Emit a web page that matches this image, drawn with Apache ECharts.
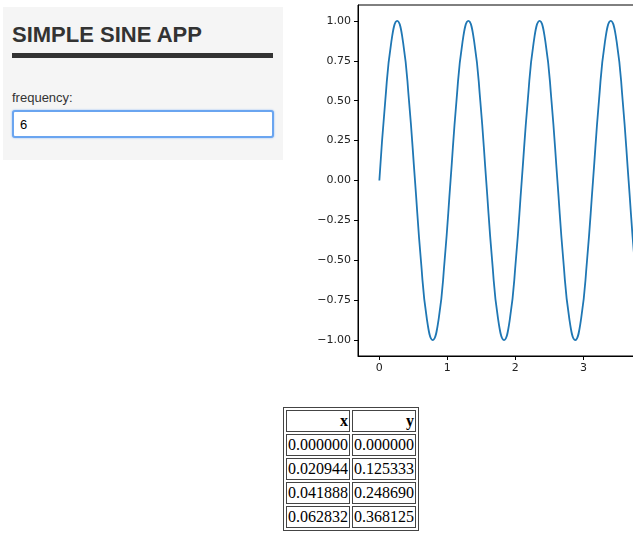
<!DOCTYPE html>
<html>
<head>
<meta charset="utf-8">
<script src="https://cdn.jsdelivr.net/npm/echarts@6/dist/echarts.min.js"></script>
<style>
  body { margin:0; width:633px; height:533px; overflow:hidden; position:relative; background:#fff; }
  #panel { position:absolute; left:3px; top:7px; width:280px; height:153px; background:#f5f5f5; font-family:"Liberation Sans", Arial, sans-serif; }
  #panel h2 { position:absolute; left:9px; top:15px; margin:0; font-size:22px; font-weight:bold; color:#333; }
  #panel .bar { position:absolute; left:9px; top:46px; width:261px; height:5px; background:#333; }
  #panel label { position:absolute; left:9px; top:83px; font-size:13px; color:#333; }
  #panel input { position:absolute; left:9px; top:103px; width:246px; height:24px; padding:0 6px; font-size:13px; border:2px solid #6aa5f0; border-radius:3px; box-shadow:0 0 2px #8ab8f5; outline:none; }
  #chart { position:absolute; left:300px; top:0; width:560px; height:380px; }
  table { position:absolute; left:283px; top:407px; border:1px solid #444; border-spacing:2px; font-family:"Liberation Serif", "Times New Roman", serif; font-size:16px; }
  td, th { border:1px solid #444; padding:1px 1px; text-align:right; }
</style>
</head>
<body>
<div id="panel">
  <h2>SIMPLE SINE APP</h2>
  <div class="bar"></div>
  <label>frequency:</label>
  <input type="text" value="6">
</div>
<div id="chart"></div>
<table>
  <tr><th>x</th><th>y</th></tr>
  <tr><td>0.000000</td><td>0.000000</td></tr>
  <tr><td>0.020944</td><td>0.125333</td></tr>
  <tr><td>0.041888</td><td>0.248690</td></tr>
  <tr><td>0.062832</td><td>0.368125</td></tr>
</table>
<script>
// samples every 0.0873 in x
var xs = [0,0.087,0.175,0.262,0.349,0.436,0.524,0.611,0.698,0.785,0.873,0.960,
  1.047,1.134,1.222,1.309,1.396,1.484,1.571,1.658,1.745,1.833,1.920,2.007,
  2.094,2.182,2.269,2.356,2.443,2.531,2.618,2.705,2.793,2.880,2.967,3.054,
  3.142,3.229,3.316,3.403,3.491,3.578,3.665,3.752,3.840,3.927,4.014,4.102,
  4.189,4.276,4.363,4.451,4.538,4.625,4.712,4.800,4.887,4.974,5.061,5.149,
  5.236,5.323,5.411,5.498,5.585,5.672,5.760,5.847,5.934,6.021,6.109,6.196,6.283];
var ys = [0,0.5,0.866,1,0.866,0.5,0,-0.5,-0.866,-1,-0.866,-0.5,
  0,0.5,0.866,1,0.866,0.5,0,-0.5,-0.866,-1,-0.866,-0.5,
  0,0.5,0.866,1,0.866,0.5,0,-0.5,-0.866,-1,-0.866,-0.5,
  0,0.5,0.866,1,0.866,0.5,0,-0.5,-0.866,-1,-0.866,-0.5,
  0,0.5,0.866,1,0.866,0.5,0,-0.5,-0.866,-1,-0.866,-0.5,
  0,0.5,0.866,1,0.866,0.5,0,-0.5,-0.866,-1,-0.866,-0.5,0];
var xTicks = [0,1,2,3,4,5,6];
var yTicks = [-1,-0.75,-0.5,-0.25,0,0.25,0.5,0.75,1];

var pts = xs.map(function(x, i){ return [x, ys[i]]; });
var myChart = echarts.init(document.getElementById('chart'));
var labelStyle = { color:'#222', fontSize:11, fontFamily:'DejaVu Sans' };
myChart.setOption({
  animation: false,
  grid: { left:58, top:5, width:470, height:351, show:true, borderColor:'#000', borderWidth:1, backgroundColor:'transparent' },
  xAxis: {
    type:'value', min:-0.314, max:6.597,
    axisLine:{ onZero:false, lineStyle:{ color:'#000' } },
    axisTick:{ inside:false, length:4, lineStyle:{ color:'#000' }, customValues: xTicks },
    axisLabel: Object.assign({ customValues: xTicks, margin:7 }, labelStyle),
    splitLine:{ show:false }
  },
  yAxis: {
    type:'value', min:-1.1, max:1.1,
    axisLine:{ show:true, onZero:false, lineStyle:{ color:'#000' } },
    axisTick:{ show:true, length:4, lineStyle:{ color:'#000' }, customValues: yTicks },
    axisLabel: Object.assign({ customValues: yTicks, margin:7,
      formatter:function(v){ return v.toFixed(2).replace('-', '\u2212'); } }, labelStyle),
    splitLine:{ show:false }
  },
  series: [{
    type:'line', data: pts, smooth:0.5, showSymbol:false,
    lineStyle:{ color:'#1f77b4', width:1.8 }
  }]
});
</script>
</body>
</html>
